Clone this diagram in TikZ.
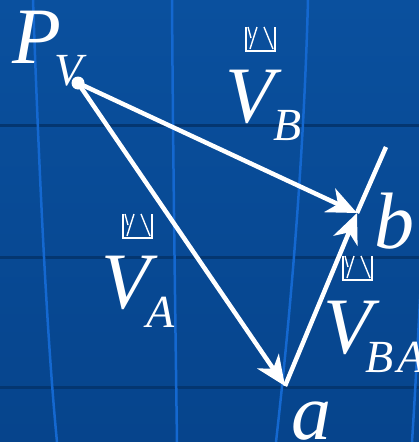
\documentclass[tikz,border=0pt]{standalone}
\usepackage{fontspec}
\setmainfont{Liberation Serif}
\usetikzlibrary{arrows.meta}

\definecolor{bgtop}{RGB}{10,80,158}
\definecolor{bgbot}{RGB}{6,68,140}
\definecolor{gridlight}{RGB}{20,104,208}
\definecolor{griddark}{RGB}{4,54,112}

\tikzset{
  big/.style={text=white, inner sep=0pt, anchor=base west, font=\fontsize{80}{80}\selectfont\itshape},
  sub/.style={text=white, inner sep=0pt, anchor=base west, font=\fontsize{46}{46}\selectfont\itshape},
  vec/.style={white, line width=4.5pt, -{Stealth[length=30pt, width=26pt, inset=9pt]}},
  glyph/.style={white, line width=1.4pt},
  boxglyph/.pic={
    \draw[glyph] (0,0) -- (0,24) -- (29,24) -- (29,0);
    \draw[glyph] (2,0) -- (5,11);
    \draw[glyph] (4,22) -- (11,0);
    \draw[glyph] (18,0) -- (27,22);
  }
}

\begin{document}
\begin{tikzpicture}[x=1pt, y=-1pt]
  \useasboundingbox (0,0) rectangle (419,442);

  % Background
  \fill[top color=bgtop, bottom color=bgbot] (0,0) rectangle (419,442);
  \foreach \y in {125, 257, 387} {
    \draw[griddark, line width=3pt] (0,\y) -- (419,\y);
  }
  \draw[gridlight, line width=2.5pt] (33,0) .. controls (40,200) and (48,350) .. (57,442);
  \draw[gridlight, line width=2.5pt] (172,0) .. controls (173,150) and (175,300) .. (177,442);
  \draw[gridlight, line width=2.5pt] (308,0) .. controls (304,150) and (292,300) .. (276,442);
  \draw[gridlight, line width=2.5pt] (425,200) .. controls (420,300) and (416,380) .. (412,442);

  % Points
  \coordinate (PV) at (78,83);
  \coordinate (a) at (285,386);
  \coordinate (b) at (357,213);
  \coordinate (btop) at (386,147);

  % Vectors
  \draw[white, line width=4.5pt] (b) -- (btop);
  \draw[vec] (PV) -- (b);
  \draw[vec] (PV) -- (a);
  \draw[vec] (a) -- (b);
  \fill[white] (PV) circle (6.5pt);

  % Labels
  \node[big] (P) at (12,63) {P};
  \node[sub] (Psub) at (54,85) {V};

  \node[big] (VB) at (225,122) {V};
  \node[sub] (VBsub) at (273,140) {B};
  \pic at (246,27) {boxglyph};

  \node[big] (VA) at (101,308) {V};
  \node[sub] (VAsub) at (146,327) {A};
  \pic at (123,214) {boxglyph};

  \node[big] (VBA) at (323,353) {V};
  \node[sub] (VBAsub) at (365,372) {B\kern4pt A};
  \pic at (343,256) {boxglyph};

  \node[big] (alab) at (291,439) {a};
  \node[big] (blab) at (374,248) {b};
\end{tikzpicture}
\end{document}
